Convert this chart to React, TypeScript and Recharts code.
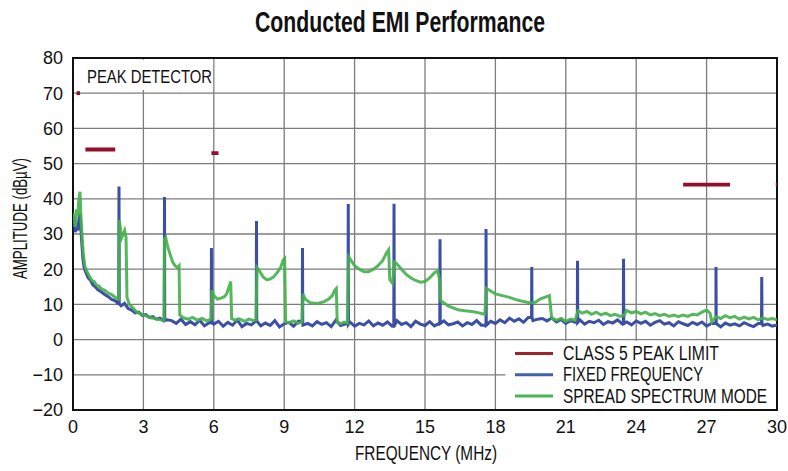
import React from 'react';
import { LineChart, Line, XAxis, YAxis, CartesianGrid, ReferenceArea } from 'recharts';

const FONT = '"Liberation Sans", Arial, sans-serif';

const xTicks = [0, 3, 6, 9, 12, 15, 18, 21, 24, 27, 30];
const yTicks = [-20, -10, 0, 10, 20, 30, 40, 50, 60, 70, 80];

// class 5 peak limit: [start MHz, end MHz, dBµV]
const limitSegments = [
    [0.15, 0.3, 70],
    [0.53, 1.8, 54],
    [5.9, 6.2, 53],
    [26, 28, 44],
    [29.95, 30, 44],
];

// fixed frequency, low end roll-off [MHz, dBµV]
const fixedLow = [
    [0, 32], [0.05, 35], [0.1, 30.5], [0.15, 33], [0.2, 31], [0.25, 34], [0.3, 36], [0.34, 31],
    [0.38, 27], [0.42, 23], [0.47, 20.5], [0.55, 19], [0.65, 17.5], [0.75, 16.8], [0.85, 15.5],
    [0.95, 15], [1.05, 14.2], [1.2, 13.6], [1.35, 12.8], [1.5, 12.2], [1.65, 11.4], [1.8, 11],
    [1.93, 10.2], [2.05, 9.6], [2.2, 10.3], [2.35, 8.8], [2.5, 8.4], [2.65, 7.6], [2.8, 7.8],
    [2.95, 6.9], [3.1, 7.1], [3.25, 6.3], [3.4, 6.5], [3.55, 5.8], [3.7, 6.1], [3.85, 5.4], [4.0, 5.6],
];

// fixed frequency noise floor, 4.2 MHz onwards in 0.2 MHz steps
const floorStart = 4.2;
const floorStep = 0.2;
const fixedFloor = [
    5.4, 4.6, 5.8, 4.3, 5.1, 4.2, 5.5, 3.9, 4.8, 4.4,
    5.2, 3.8, 4.9, 4.1, 5.6, 3.7, 4.6, 4.2, 5.3, 3.9,
    4.7, 4.0, 5.4, 3.6, 4.5, 4.9, 3.8, 5.2, 4.1, 4.6,
    3.9, 5.1, 4.3, 4.8, 3.7, 5.5, 4.0, 4.4, 5.0, 3.8,
    4.6, 4.2, 5.3, 3.9, 4.7, 4.1, 5.0, 3.8, 5.4, 4.3,
    4.8, 3.7, 5.2, 4.4, 4.0, 5.1, 3.9, 4.6, 5.3, 4.2,
    4.5, 5.0, 3.9, 4.8, 4.3, 5.4, 4.1, 4.9, 5.2, 4.6,
    5.6, 4.8, 6.1, 5.2, 5.9, 4.9, 6.3, 5.4, 5.8, 6.0,
    5.3, 6.2, 5.0, 5.7, 4.6, 5.4, 4.9, 5.6, 4.4, 5.2,
    4.8, 5.5, 4.3, 5.1, 4.7, 5.6, 4.5, 5.0, 4.2, 5.3,
    4.6, 5.2, 4.1, 4.9, 5.4, 4.4, 4.8, 3.9, 5.1, 4.5,
    4.0, 4.9, 4.3, 5.0, 3.8, 4.6, 4.2, 3.6, 4.7, 4.1,
    4.5, 3.9, 4.8, 4.2, 3.7, 4.6, 4.0, 4.4, 3.8, 4.2,
];

// switching harmonics [MHz, peak dBµV]
const fixedSpikes = [
    [1.96, 43.5], [3.9, 40.5], [5.9, 26], [7.82, 33.7], [9.78, 26], [11.73, 38.5],
    [13.68, 38.6], [15.64, 28.5], [17.6, 31.4], [19.55, 20.6], [21.5, 22.4], [23.46, 23],
    [27.4, 20.6], [29.35, 17.8],
];

// spread spectrum mode [MHz, dBµV]
const spreadSpectrum = [
    [0, 34], [0.05, 36], [0.1, 32], [0.15, 37], [0.2, 35], [0.25, 40], [0.3, 42], [0.33, 36],
    [0.38, 30], [0.43, 25], [0.5, 21], [0.58, 19.5], [0.7, 18], [0.8, 16.8], [0.9, 16.5], [1.0, 15.5],
    [1.1, 15.2], [1.2, 14.5], [1.35, 14], [1.5, 13.2], [1.65, 12.8], [1.8, 12], [1.95, 11.5],
    [1.97, 34], [2.03, 31], [2.08, 29], [2.14, 30], [2.2, 31], [2.26, 29], [2.3, 12], [2.4, 10],
    [2.55, 9], [2.7, 8], [2.9, 7.2], [3.1, 6.8], [3.3, 6.2], [3.5, 6], [3.7, 5.6], [3.88, 5.5],
    [3.9, 28.5], [3.95, 29], [4.05, 26], [4.15, 24], [4.25, 22], [4.35, 21], [4.45, 20.5], [4.52, 21],
    [4.55, 7], [4.7, 6.2], [4.9, 5.8], [5.1, 6.3], [5.3, 5.5], [5.5, 6], [5.7, 5.3], [5.88, 5.8],
    [5.92, 14], [6.0, 12.5], [6.15, 11.5], [6.3, 11.8], [6.45, 12.2], [6.55, 13], [6.65, 15], [6.72, 16.5],
    [6.76, 6], [6.9, 5.5], [7.1, 5.9], [7.3, 5.2], [7.5, 5.8], [7.7, 5.4], [7.8, 5.6],
    [7.84, 20.5], [7.95, 19.5], [8.1, 17.8], [8.25, 17], [8.4, 17.2], [8.55, 17.8], [8.7, 19], [8.85, 20.5],
    [8.95, 22.5], [9.02, 23], [9.06, 5], [9.2, 4.8], [9.4, 5.3], [9.6, 4.6], [9.76, 5],
    [9.8, 13], [9.9, 11.5], [10.1, 10.5], [10.3, 10.3], [10.5, 10.4], [10.7, 10.8], [10.9, 11.5],
    [11.05, 12.5], [11.15, 14], [11.22, 14.5], [11.26, 5], [11.4, 4.5], [11.55, 5], [11.7, 4.7],
    [11.75, 23.5], [11.85, 22.5], [12.0, 21], [12.2, 20], [12.4, 19.3], [12.6, 19.3], [12.8, 20],
    [13.0, 21], [13.2, 22.5], [13.35, 24.5], [13.45, 25.5], [13.5, 17], [13.62, 16],
    [13.7, 22], [13.8, 21.5], [14.0, 20], [14.2, 18.5], [14.4, 17.5], [14.6, 16.8], [14.8, 16.3],
    [15.0, 16.5], [15.2, 17.5], [15.4, 19], [15.55, 19.5], [15.62, 17], [15.67, 11],
    [15.8, 10.5], [16.0, 9.5], [16.2, 9], [16.4, 8.5], [16.7, 8.2], [17.0, 8], [17.3, 7.6], [17.55, 7.2],
    [17.62, 14.5], [17.75, 14], [18.0, 13], [18.3, 12.5], [18.6, 12], [18.9, 11.3], [19.2, 10.8],
    [19.5, 10.4], [19.7, 10.6], [19.9, 11.5], [20.1, 12], [20.3, 12.5], [20.4, 6],
    [20.6, 5.5], [20.8, 6], [21.0, 5.2], [21.2, 5.8], [21.4, 5.5], [21.52, 8.2], [21.7, 7.5], [21.9, 8],
    [22.1, 7.2], [22.3, 7.8], [22.5, 7], [22.7, 7.5], [22.9, 6.8], [23.1, 7.2], [23.3, 6.6], [23.5, 7],
    [23.58, 8.3], [23.8, 7.6], [24.0, 8], [24.2, 7.3], [24.4, 7.8], [24.6, 7], [24.8, 7.4], [25.0, 6.8],
    [25.2, 7.2], [25.4, 6.6], [25.6, 7], [25.8, 6.5], [26.0, 7], [26.2, 6.6], [26.4, 7.2], [26.6, 7],
    [26.8, 7.8], [27.0, 8.4], [27.15, 7.5], [27.22, 5], [27.4, 6.5], [27.6, 6], [27.8, 6.8], [28.0, 6.2],
    [28.2, 6.6], [28.4, 5.8], [28.6, 6.4], [28.8, 5.9], [29.0, 6.3], [29.2, 5.6], [29.4, 6.2], [29.6, 5.7],
    [29.8, 6], [30, 5.6],
];

// build series for the chart
const limitData: { f: number; v: number | null }[] = [];
limitSegments.forEach(([a, b, v]) => {
    limitData.push({ f: a, v }, { f: b, v }, { f: b + 0.01, v: null });
});

const fixedBase = [
    ...fixedLow.map(([f, v]) => ({ f, v })),
    ...fixedFloor.map((v, i) => ({ f: +(floorStart + i * floorStep).toFixed(2), v })),
];
const fixedData = [...fixedBase];
fixedSpikes.forEach(([s, top]) => {
    const prev = fixedBase.filter((p) => p.f < s).pop();
    const floor = prev ? prev.v : 5;
    fixedData.push({ f: s - 0.01, v: floor }, { f: s, v: top }, { f: s + 0.01, v: floor });
});
fixedData.sort((a, b) => a.f - b.f);

const spreadData = spreadSpectrum.map(([f, v]) => ({ f, v }));

const RED = '#930f2c';
const BLUE = '#3c4fa6';
const GREEN = '#44b04a';

const legendItems = [
    { label: 'CLASS 5 PEAK LIMIT', color: '#a3222a', len: 156 },
    { label: 'FIXED FREQUENCY', color: '#4360ad', len: 140 },
    { label: 'SPREAD SPECTRUM MODE', color: '#4cb452', len: 204 },
];

const tickStyle = { fill: '#111', fontSize: 18, fontFamily: FONT };

// condensed text: scaled horizontally, textLength keeps the exact width
const Narrow = ({ x, y, len, scale, size, bold, rotate, children }: any) => (
    <text
        x={0}
        y={0}
        transform={`translate(${x},${y})${rotate ? ' rotate(-90)' : ''} scale(${scale},1)`}
        fontSize={size}
        fontWeight={bold ? 700 : 400}
        textLength={len / scale}
        lengthAdjust="spacingAndGlyphs"
    >
        {children}
    </text>
);

export default function App() {
    return (
        <div style={{ position: 'absolute', left: 0, top: 0, width: 788, height: 471, background: '#fff', fontFamily: FONT }}>
            <LineChart width={788} height={471} margin={{ top: 58, right: 11, bottom: 0, left: 0 }}>
                <CartesianGrid stroke="#7c7c7c" strokeWidth={1.3} />
                <XAxis
                    dataKey="f"
                    type="number"
                    domain={[0, 30]}
                    ticks={xTicks}
                    allowDataOverflow
                    height={61}
                    tickLine={false}
                    axisLine={false}
                    tickSize={0}
                    tickMargin={10}
                    tick={tickStyle}
                />
                <YAxis
                    type="number"
                    domain={[-20, 80]}
                    ticks={yTicks}
                    allowDataOverflow
                    width={73}
                    tickLine={false}
                    axisLine={false}
                    tickSize={0}
                    tickMargin={10}
                    tick={tickStyle}
                    tickFormatter={(v: number) => (v < 0 ? `\u2212${-v}` : `${v}`)}
                />
                <ReferenceArea x1={0.2} x2={5.97} y1={70.9} y2={79.5} fill="#fff" fillOpacity={1} stroke="none" />
                <ReferenceArea x1={18.43} x2={30} y1={-20} y2={-0.35} fill="#fff" fillOpacity={1} stroke="none" />
                <Line data={fixedData} dataKey="v" stroke={BLUE} strokeWidth={3} dot={false} isAnimationActive={false} type="linear" />
                <Line data={spreadData} dataKey="v" stroke={GREEN} strokeWidth={3} strokeOpacity={0.9} dot={false} isAnimationActive={false} type="linear" />
                <Line data={limitData} dataKey="v" stroke={RED} strokeWidth={3.8} dot={false} isAnimationActive={false} type="linear" />
                <ReferenceArea x1={0} x2={30} y1={-20} y2={80} fill="none" stroke="#111" strokeWidth={2} />
            </LineChart>
            <svg width={788} height={471} style={{ position: 'absolute', left: 0, top: 0, pointerEvents: 'none' }} fontFamily={FONT} fill="#111">
                <Narrow x={255} y={32} len={290} scale={0.71} size={30} bold>
                    Conducted EMI Performance
                </Narrow>
                <Narrow x={87} y={83} len={125} scale={0.8} size={19}>
                    PEAK DETECTOR
                </Narrow>
                {legendItems.map((it, i) => (
                    <g key={it.label}>
                        <line x1={515} x2={553} y1={353.5 + i * 21.2} y2={353.5 + i * 21.2} stroke={it.color} strokeWidth={3} />
                        <Narrow x={563} y={360 + i * 21.3} len={it.len} scale={0.79} size={19.5}>
                            {it.label}
                        </Narrow>
                    </g>
                ))}
                <Narrow x={355} y={460} len={142} scale={0.77} size={20}>
                    FREQUENCY (MHz)
                </Narrow>
                <Narrow x={27} y={279} len={121} scale={0.66} size={20.5} rotate>
                    AMPLITUDE (dBµV)
                </Narrow>
            </svg>
        </div>
    );
}
